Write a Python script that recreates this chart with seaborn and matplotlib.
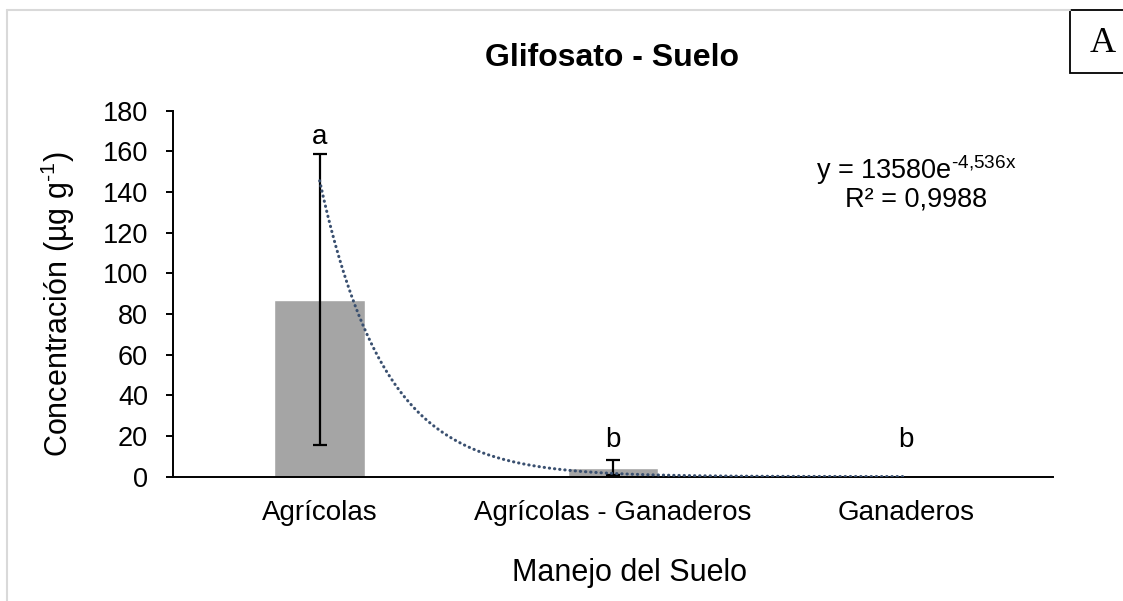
import numpy as np
import pandas as pd
import matplotlib
matplotlib.use("Agg")
import matplotlib.pyplot as plt
import seaborn as sns
from matplotlib.patches import Rectangle
from matplotlib.lines import Line2D

# ---- data ----
categories = ["Agrícolas", "Agrícolas - Ganaderos", "Ganaderos"]
means = [87.0, 4.4, 0.0]
errors = [71.5, 3.8, 0.0]
letters = ["a", "b", "b"]
trend_a = 13580.0
trend_b = 4.536
r2_text = "R² = 0,9988"
yticks = [0, 20, 40, 60, 80, 100, 120, 140, 160, 180]

sns.set_theme(style="white")
plt.rcParams["font.family"] = ["Liberation Sans", "DejaVu Sans"]
plt.rcParams["mathtext.fontset"] = "custom"
plt.rcParams["mathtext.rm"] = "Liberation Sans"
plt.rcParams["mathtext.it"] = "Liberation Sans"
plt.rcParams["mathtext.default"] = "regular"

W, H = 1123, 601
fig = plt.figure(figsize=(W / 100, H / 100), dpi=100)
fig.patch.set_facecolor("white")

def fx(px):
    return px / W

def fy(py):
    return 1 - py / H

ax = fig.add_axes([fx(173), fy(476.6), fx(1053) - fx(173), fy(110.7) - fy(476.6)])

df = pd.DataFrame({"cat": categories, "val": means})
sns.barplot(data=df, x="cat", y="val", color="#A5A5A5", saturation=1,
            width=0.31, errorbar=None, ax=ax)
xs_pos = np.arange(len(categories))
ax.errorbar(xs_pos[:2], means[:2], yerr=errors[:2], fmt="none", ecolor="black",
            elinewidth=1.6, capsize=4.7, capthick=1.6, zorder=4)

# exponential trend line (Excel x = 1..3)
xt = np.linspace(0, 2, 300)
yt = trend_a * np.exp(-trend_b * (xt + 1))
ax.plot(xt, yt, color="#3A5070", lw=2.2, linestyle=(0, (0.1, 1.6)),
        dash_capstyle="round", zorder=5)

# significance letters
letter_y = [167, 18, 18]
for i, (lt, ly) in enumerate(zip(letters, letter_y)):
    ax.text(i, ly, lt, ha="center", va="center", fontsize=20, color="black")

# equation
ax.text(2.034, 151, r"y = 13580e$^{\text{-4,536x}}$", ha="center", va="center",
        fontsize=19.5, color="black")
ax.text(2.034, 136.5, r2_text, ha="center", va="center", fontsize=19.5, color="black")

ax.set_xlim(-0.5, 2.5)
ax.set_ylim(0, 180)
ax.set_yticks(yticks)
ax.set_yticklabels([str(v) for v in yticks])
ax.set_xlabel("")
ax.set_ylabel("")
for s in ["top", "right"]:
    ax.spines[s].set_visible(False)
for s in ["left", "bottom"]:
    ax.spines[s].set_color("black")
    ax.spines[s].set_linewidth(1.4)
ax.tick_params(axis="y", direction="out", length=5, width=1.4, color="black",
               labelsize=19.5, pad=13, left=True)
ax.tick_params(axis="x", length=0, labelsize=20, pad=17)
for lab in ax.get_xticklabels() + ax.get_yticklabels():
    lab.set_color("black")

# titles
fig.text(fx(612), fy(58), "Glifosato - Suelo", ha="center", va="center",
         fontsize=23, fontweight="bold", color="black")
fig.text(fx(58), fy(304), r"Concentración (µg g$^{\text{-1}}$)", rotation=90,
         ha="center", va="center", fontsize=22, color="black")
fig.text(fx(630), fy(573), "Manejo del Suelo", ha="center", va="center",
         fontsize=22, color="black")

# outer gray frame
fig.add_artist(Line2D([fx(7), fx(7)], [fy(10), fy(601)], color="#D9D9D9", lw=1.5,
                      transform=fig.transFigure))
fig.add_artist(Line2D([fx(7), fx(1070)], [fy(10), fy(10)], color="#D9D9D9", lw=1.5,
                      transform=fig.transFigure))
# panel letter box
fig.add_artist(Rectangle((fx(1070), fy(73)), fx(1140) - fx(1070), fy(10) - fy(73),
                         transform=fig.transFigure, facecolor="white",
                         edgecolor="black", lw=1.3))
fig.text(fx(1103), fy(43), "A", ha="center", va="center", fontsize=26,
         family=["Liberation Serif", "DejaVu Serif"], color="black")

fig.savefig("out.png", dpi=100)
